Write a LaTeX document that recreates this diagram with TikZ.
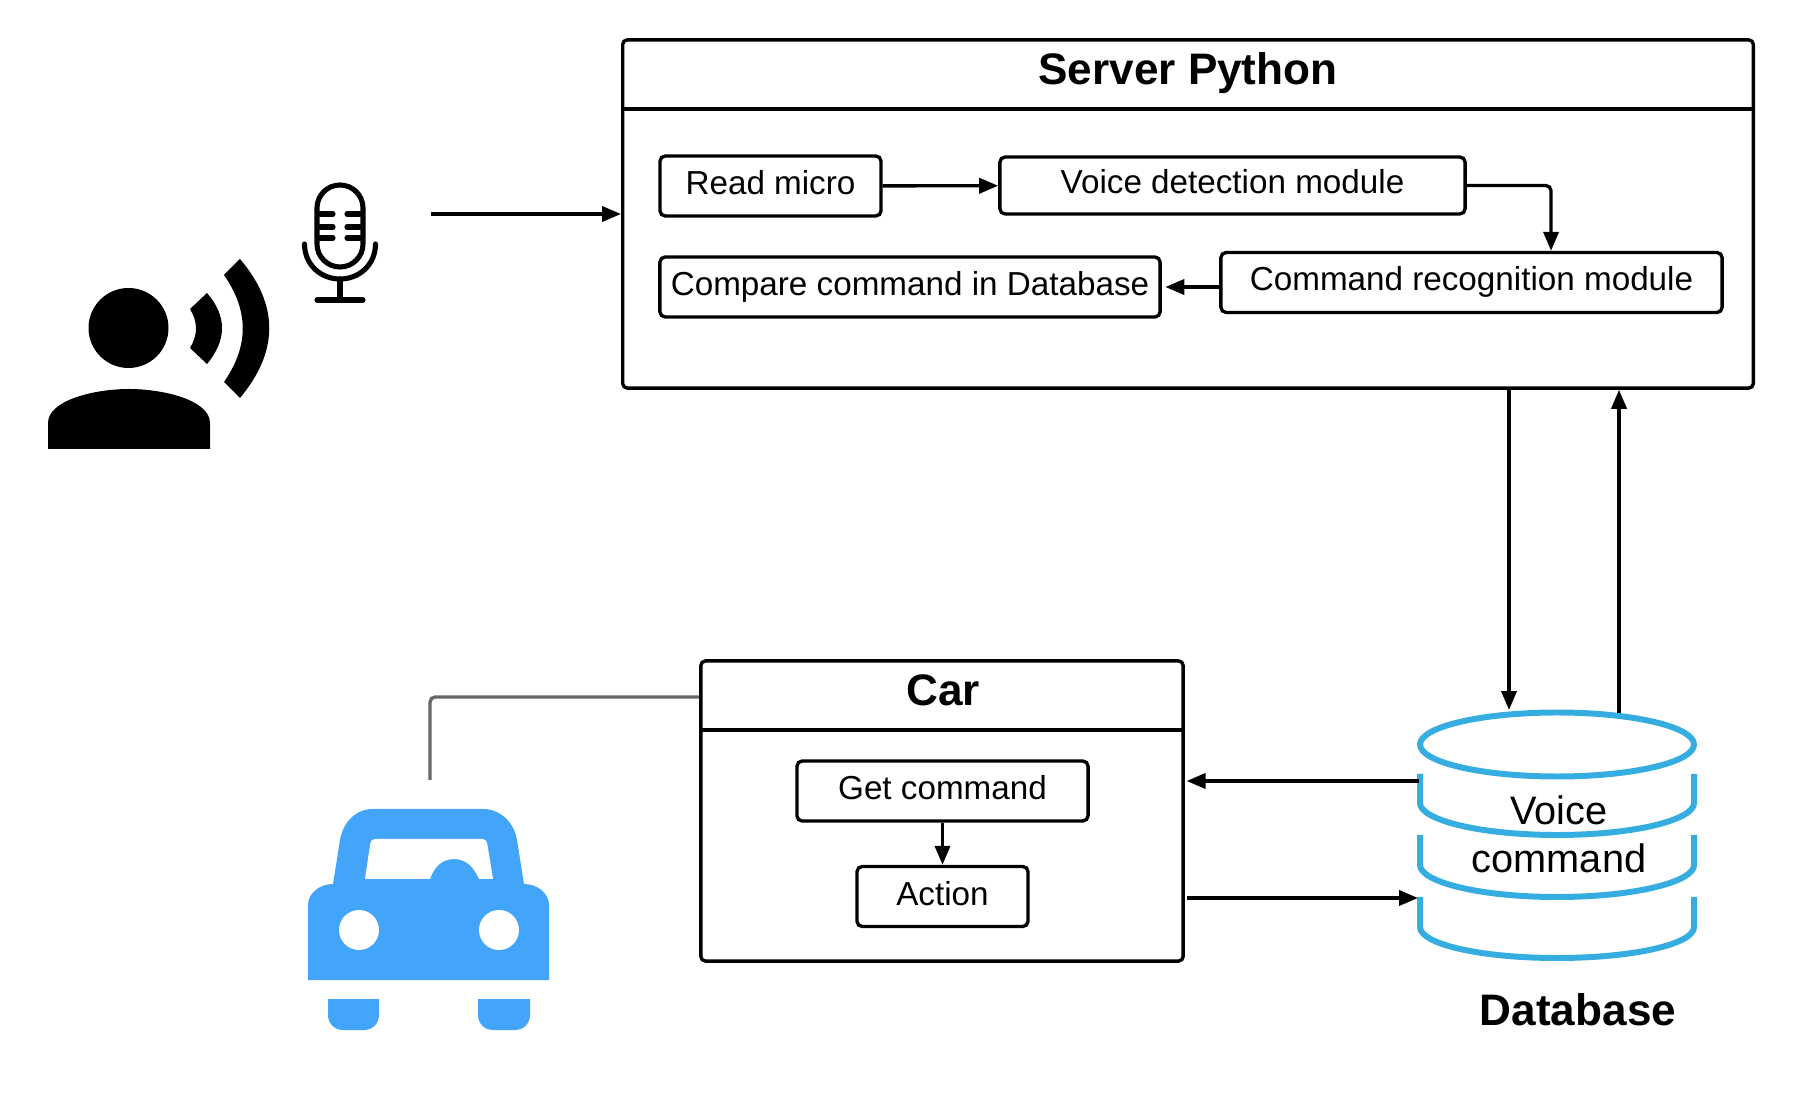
\documentclass[tikz,border=0pt]{standalone}
\usepackage{fontspec}
\setmainfont{Liberation Sans}
\usepackage{xcolor}
\usetikzlibrary{arrows.meta,positioning,calc}
\definecolor{dbblue}{HTML}{35ADE0}
\definecolor{carblue}{HTML}{42A5F9}
\definecolor{linkgrey}{HTML}{666666}
\tikzset{
  framebox/.style={draw=black,line width=.95pt,rounded corners=1.3pt,inner sep=0pt},
  modulebox/.style={draw=black,line width=.95pt,rounded corners=1.5pt,inner sep=0pt,
    text height=.385cm,text depth=.215cm,font=\fontsize{9.45}{11}\selectfont},
  titlelabel/.style={anchor=base,inner sep=0pt,font=\fontsize{12.55}{15}\selectfont\bfseries},
  dblabel/.style={inner sep=0pt,align=center,font=\fontsize{11.3}{13.66}\selectfont},
  flowarrow/.style={-{Triangle[length=5.4pt,width=4.3pt]},line width=.95pt},
  dblayer/.style={draw=dbblue,line width=1.7pt},
  micline/.style={line width=1.45pt,line cap=round}
}

\begin{document}
\begin{tikzpicture}[x=.01cm,y=-.01cm]
  \useasboundingbox (0,0) rectangle (1794,1101);
  % speaker
  \fill (128.5,328) circle (40);
  \fill (48,449) -- (48,423) .. controls (48,400) and (95,389) .. (129,389)
    .. controls (163,389) and (210,400) .. (210,423) -- (210,449) -- cycle;
  \fill (207,293) .. controls (227,316) and (227,340) .. (207,364) -- (190,348)
    .. controls (198,335) and (198,322) .. (190,309) -- cycle;
  \fill (240,259) .. controls (279,305) and (279,351) .. (240,398) -- (224,382)
    .. controls (249,346) and (249,311) .. (224,275) -- cycle;
  % microphone
  \draw[micline,rounded corners=.23cm] (317,185) rectangle (363,267);
  \draw[micline] (320,214) -- (333,214) (320,227) -- (333,227) (320,238) -- (333,238)
    (347,214) -- (360,214) (347,227) -- (360,227) (347,238) -- (360,238);
  \draw[micline] (304.5,244) .. controls (304.5,264) and (320,279) .. (340,279)
    .. controls (360,279) and (375.5,264) .. (375.5,244);
  \draw[micline] (340,279) -- (340,300) (317,300) -- (363,300);
  \coordinate (micout) at (431,214);
  % server
  \node[framebox,minimum width=11.30cm,minimum height=3.48cm] (server) at (1188,214) {};
  \draw[line width=.95pt] (server.west |- 0,109) -- (server.east |- 0,109);
  \node[titlelabel] (servertitle) at (1188,85) {Server Python};
  \node[modulebox,minimum width=2.21cm] (readmicro) at (770.5,186) {Read micro};
  \node[modulebox,minimum width=4.65cm,text height=.365cm,text depth=.205cm] (voicedetect) at (1232.5,185.5) {Voice detection module};
  \node[modulebox,minimum width=5.01cm] (cmdrecog) at (1471.5,282.5) {Command recognition module};
  \node[modulebox,minimum width=5.00cm] (compare) at (910,287) {Compare command in Database};
  \draw[flowarrow] (micout) -- (server.west |- micout);
  \draw[flowarrow] (readmicro) -- (voicedetect);
  \draw[flowarrow,rounded corners=1.5pt] (voicedetect.east) -| ([xshift=.795cm]cmdrecog.north);
  \draw[flowarrow,shorten >=1pt] (cmdrecog.west |- compare.east) -- (compare.east);
  % database
  \draw[dblayer] (1557,744.5) ellipse[x radius=137,y radius=32];
  \draw[dblayer] (1420,774) -- (1420,803) .. controls (1420,820) and (1480,835) .. (1557,835)
    .. controls (1634,835) and (1694,820) .. (1694,803) -- (1694,774);
  \draw[dblayer] (1420,835) -- (1420,865) .. controls (1420,882) and (1480,897) .. (1557,897)
    .. controls (1634,897) and (1694,882) .. (1694,865) -- (1694,835);
  \draw[dblayer] (1420,897) -- (1420,927) .. controls (1420,944) and (1480,958) .. (1557,958)
    .. controls (1634,958) and (1694,944) .. (1694,927) -- (1694,897);
  \node[dblabel] (dbtext) at (1559,834) {Voice\\command};
  \node[titlelabel] (dbtitle) at (1578,1025) {Database};
  \coordinate (dbtopin) at (1509,710);
  \coordinate (dbtopout) at (1619,713);
  \coordinate (dbleftout) at (1419,781);
  \coordinate (dbleftin) at (1418,898);
  \draw[flowarrow] (server.south -| dbtopin) -- (dbtopin);
  \draw[flowarrow] (dbtopout) -- (server.south -| dbtopout);
  % car module
  \node[framebox,minimum width=4.82cm,minimum height=3cm] (carbox) at (942,811) {};
  \draw[line width=.95pt] (carbox.west |- 0,730) -- (carbox.east |- 0,730);
  \node[titlelabel] (cartitle) at (943,706) {Car};
  \node[modulebox,minimum width=2.91cm] (getcmd) at (942.5,791) {Get command};
  \node[modulebox,minimum width=1.71cm] (action) at (942.5,896.5) {Action};
  \draw[flowarrow] (getcmd) -- (action);
  \draw[flowarrow,shorten >=.5pt] (dbleftout) -- (carbox.east |- dbleftout);
  \draw[flowarrow,shorten <=.5pt] (carbox.east |- dbleftin) -- (dbleftin);
  \coordinate (carlink) at (430,780);
  \draw[draw=linkgrey,line width=.95pt,rounded corners=1.5pt] ([yshift=1.14cm]carbox.west) -| (carlink);
  % car icon
  \fill[carblue] (308,980) -- (308,905) .. controls (308,893) and (320,884) .. (333,884)
    -- (340,840) .. controls (343,822) and (356,809) .. (373,809) -- (483,809)
    .. controls (500,809) and (514,822) .. (517,840) -- (524,884)
    .. controls (537,884) and (549,893) .. (549,905) -- (549,980) -- cycle;
  \fill[white] (365,879) -- (370,845) .. controls (370.5,841) and (372,839) .. (375,839)
    -- (483,839) .. controls (485,839) and (487,841) .. (487.5,845) -- (493,879) -- (479,879)
    .. controls (474,867) and (466,859) .. (454,859) .. controls (442,859) and (434,867) .. (430,879) -- cycle;
  \fill[white] (359,930) circle (20) (499,930) circle (20);
  \fill[carblue] (328,999) -- (379,999) -- (379,1015) .. controls (379,1024) and (372,1030) .. (364,1030)
    -- (343,1030) .. controls (335,1030) and (328,1024) .. (328,1015) -- cycle;
  \fill[carblue] (478,999) -- (530,999) -- (530,1015) .. controls (530,1024) and (523,1030) .. (515,1030)
    -- (493,1030) .. controls (485,1030) and (478,1024) .. (478,1015) -- cycle;
\end{tikzpicture}
\end{document}
